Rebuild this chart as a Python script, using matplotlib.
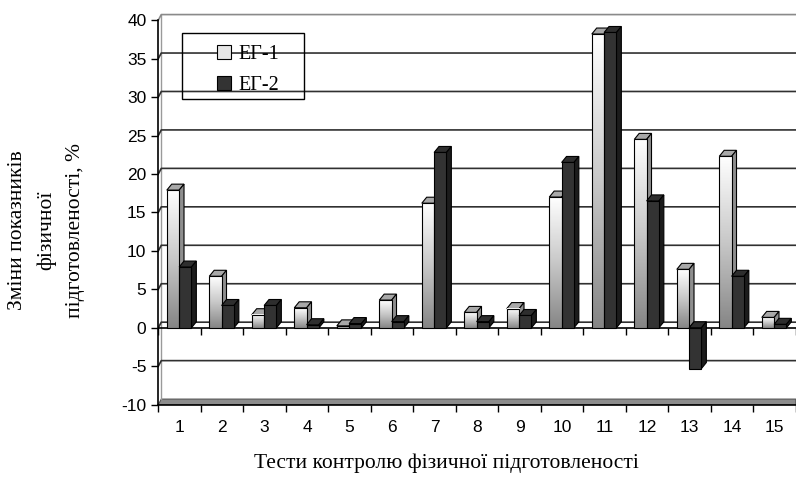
import numpy as np
import matplotlib
matplotlib.use('Agg')
import matplotlib.pyplot as plt
from matplotlib.patches import Rectangle, Polygon, Patch
from matplotlib.colors import LinearSegmentedColormap

# дані
tests = [str(i) for i in range(1, 16)]
eg1 = [17.9, 6.7, 1.7, 2.6, 0.25, 3.6, 16.2, 2.0, 2.5, 17.0, 38.2, 24.5, 7.6, 22.3, 1.35]
eg2 = [7.9, 2.9, 2.9, 0.4, 0.55, 0.8, 22.8, 0.8, 1.6, 21.5, 38.4, 16.5, -5.3, 6.7, 0.45]
series_names = ['ЕГ-1', 'ЕГ-2']
yticks = list(range(-10, 41, 5))

serif = 'Liberation Serif'
sans = 'Liberation Sans'

fig = plt.figure(figsize=(7.96, 4.8), dpi=100)
W, H = 796, 480
ax = fig.add_axes([158.3 / W, (H - 404.7) / H, 637.5 / W, (404.7 - 12.5) / H])
n = len(tests)

# глибина стінок і стовпців
wdx, wdy = 0.07, 0.73
bdx, bdy = 0.115, 0.78
bw = 0.29

# підлога
ax.add_patch(Polygon([(0.5, -10), (0.5 + wdx, -10 + wdy), (n + 0.5, -10 + wdy), (n + 0.5, -10)],
                     closed=True, facecolor='#8c8c8c', edgecolor='#555555', lw=0.8, zorder=1))
# ліва грань стінки
ax.plot([0.5 + wdx, 0.5 + wdx], [-10 + wdy, 40 + wdy], color='#9a9a9a', lw=1.0, zorder=1)
# сітка
for v in yticks[1:]:
    c = '#8a8a8a' if v == 40 else '#303030'
    ax.plot([0.5, 0.5 + wdx, n + 0.5], [v, v + wdy, v + wdy], color=c, lw=1.2, zorder=1)
# фронтальна лінія нуля + поділки
ax.plot([0.5, n + 0.5], [0, 0], color='black', lw=1.2, zorder=2)
ax.vlines(np.arange(0.5, n + 1.0, 1.0), -0.9, 0, color='black', lw=1.0, zorder=2)

grad_cmap = LinearSegmentedColormap.from_list('g1', ['#858585', '#c8c8c8', '#ffffff'])
grad = np.linspace(0, 1, 256).reshape(-1, 1)


def bar3d(x0, v, front, side, top, gradient=False):
    x1 = x0 + bw
    lo, hi = min(0, v), max(0, v)
    ax.add_patch(Polygon([(x0, hi), (x0 + bdx, hi + bdy), (x1 + bdx, hi + bdy), (x1, hi)],
                         closed=True, facecolor=top, edgecolor='black', lw=0.8, zorder=3))
    ax.add_patch(Polygon([(x1, lo), (x1 + bdx, lo + bdy), (x1 + bdx, hi + bdy), (x1, hi)],
                         closed=True, facecolor=side, edgecolor='black', lw=0.8, zorder=3))
    if gradient:
        ax.imshow(grad, cmap=grad_cmap, extent=[x0, x1, lo, hi], origin='lower',
                  aspect='auto', interpolation='bilinear', zorder=3)
        ax.add_patch(Rectangle((x0, lo), bw, hi - lo, facecolor='none', edgecolor='black', lw=0.8, zorder=3.1))
    else:
        ax.add_patch(Rectangle((x0, lo), bw, hi - lo, facecolor=front, edgecolor='black', lw=0.8, zorder=3))


for i in range(n):
    xc = i + 1
    bar3d(xc - 0.30, eg1[i], None, '#8e8e8e', '#a8a8a8', gradient=True)
    bar3d(xc - 0.01, eg2[i], '#333333', '#1c1c1c', '#2e2e2e')

ax.set_xlim(0.5, n + 0.5)
ax.set_ylim(-10, 41)

# осі
for s in ['top', 'right']:
    ax.spines[s].set_visible(False)
ax.spines['left'].set_bounds(-10, 40)
ax.spines['left'].set_linewidth(1.2)
ax.spines['bottom'].set_linewidth(1.2)
ax.set_yticks(yticks)
ax.set_yticklabels([str(v) for v in yticks], fontfamily=sans, fontsize=12.5)
ax.set_xticks(range(1, n + 1))
ax.set_xticklabels(tests, fontfamily=sans, fontsize=12.5)
ax.set_xticks(np.arange(0.5, n + 1.0, 1.0), minor=True)
ax.tick_params(axis='x', which='major', length=0, pad=11)
ax.tick_params(axis='x', which='minor', length=5, width=1.0, direction='out')
ax.tick_params(axis='y', length=5, width=1.0, direction='out', pad=3.5)
ax.set_facecolor('white')

# легенда
handles = [Patch(facecolor='#e6e6e6', edgecolor='black', lw=0.8),
           Patch(facecolor='#333333', edgecolor='black', lw=0.8)]
fig.legend(handles=handles, labels=series_names, loc='upper left',
           bbox_to_anchor=(207 / W, 1 - 35 / H), bbox_transform=fig.transFigure,
           frameon=False, borderpad=0, handlelength=0.7, handleheight=0.7,
           handletextpad=0.35, labelspacing=0.6, prop={'family': serif, 'size': 14.5})
fig.patches.append(Rectangle((182 / W, 1 - 99 / H), 122 / W, 66 / H, transform=fig.transFigure,
                             facecolor='none', edgecolor='black', lw=1.0, zorder=10))

# підписи осей
fig.text(46.5 / W, 1 - 230 / H, 'Зміни показників\nфізичної\nпідготовленості, %',
         rotation=90, ha='center', va='center', multialignment='center',
         fontfamily=serif, fontsize=15.5, linespacing=1.65)
fig.text(446 / W, 1 - 463 / H, 'Тести контролю фізичної підготовленості',
         ha='center', va='center', fontfamily=serif, fontsize=15.5)

fig.savefig('out.png', dpi=100)
